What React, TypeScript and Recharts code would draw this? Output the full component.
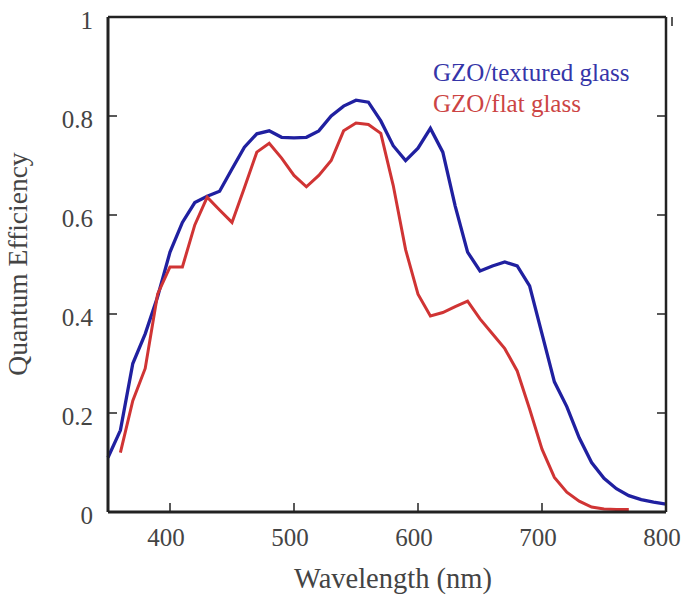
import React from 'react';
import { LineChart, Line, XAxis, YAxis, Legend } from 'recharts';

const wavelengths = [
  350, 360, 370, 380, 390, 400, 410, 420, 430, 440, 450, 460, 470, 480, 490, 500,
  510, 520, 530, 540, 550, 560, 570, 580, 590, 600, 610, 620, 630, 640, 650, 660,
  670, 680, 690, 700, 710, 720, 730, 740, 750, 760, 770, 780, 790, 800,
];

const texturedGlass = [
  0.11, 0.165, 0.3, 0.36, 0.435, 0.525, 0.585, 0.625, 0.638, 0.648, 0.693, 0.737, 0.764, 0.77, 0.757, 0.756,
  0.757, 0.77, 0.8, 0.82, 0.832, 0.828, 0.79, 0.74, 0.71, 0.735, 0.775, 0.727, 0.618, 0.525, 0.487, 0.497,
  0.505, 0.497, 0.457, 0.36, 0.263, 0.213, 0.15, 0.1, 0.068, 0.047, 0.033, 0.025, 0.02, 0.016,
];

const flatGlass = [
  null, 0.12, 0.225, 0.29, 0.44, 0.495, 0.495, 0.58, 0.636, 0.61, 0.585, 0.655, 0.727, 0.745, 0.715, 0.68,
  0.657, 0.68, 0.71, 0.77, 0.786, 0.783, 0.765, 0.66, 0.53, 0.44, 0.396, 0.403, 0.415, 0.426, 0.39, 0.36,
  0.33, 0.285, 0.208, 0.127, 0.07, 0.04, 0.022, 0.01, 0.006, 0.005, 0.005, null, null, null,
];

const xTicks = [400, 500, 600, 700, 800];
const xInnerTicks = [400, 500, 600, 700];
const yTicks = [0, 0.2, 0.4, 0.6, 0.8, 1];
const yInnerTicks = [0.2, 0.4, 0.6, 0.8];
const seriesOrder = ['textured', 'flat'];

const data = wavelengths.map((w, i) => ({
  wavelength: w,
  textured: texturedGlass[i],
  flat: flatGlass[i],
}));

const SERIF = '"Liberation Serif", "Times New Roman", serif';
const AXIS = '#222';
const BLUE = '#2020a0';
const RED = '#d03434';
const TICK_LEN = 9;
const X_MARGIN = 16;
const Y_MARGIN = 15;

// inward tick + label for the bottom axis
const BottomTick = (props: any) => {
  const { x, y, payload } = props;
  const axisY = y - X_MARGIN;
  return (
    <g>
      {payload.value !== 800 && (
        <line x1={x} x2={x} y1={axisY} y2={axisY - TICK_LEN} stroke={AXIS} strokeWidth={1.5} />
      )}
      <text x={x - 4} y={y} dy="0.71em" textAnchor="middle" fontFamily={SERIF} fontSize={25} fill="#444">
        {payload.value}
      </text>
    </g>
  );
};

// inward tick + label for the left axis
const LeftTick = (props: any) => {
  const { x, y, payload } = props;
  const axisX = x + Y_MARGIN;
  return (
    <g>
      {payload.value !== 0 && payload.value !== 1 && (
        <line x1={axisX} x2={axisX + TICK_LEN} y1={y} y2={y} stroke={AXIS} strokeWidth={1.5} />
      )}
      <text x={x} y={y + 3} dy="0.355em" textAnchor="end" fontFamily={SERIF} fontSize={25} fill="#444">
        {String(payload.value)}
      </text>
    </g>
  );
};

const TopTick = (props: any) => {
  const { x, y } = props;
  return <line x1={x} x2={x} y1={y} y2={y + TICK_LEN} stroke={AXIS} strokeWidth={1.5} />;
};

const RightTick = (props: any) => {
  const { x, y } = props;
  return <line x1={x - TICK_LEN} x2={x} y1={y} y2={y} stroke={AXIS} strokeWidth={1.5} />;
};

const renderLegend = (props: any) => {
  const items = [...(props.payload || [])].sort(
    (a: any, b: any) => seriesOrder.indexOf(a.dataKey) - seriesOrder.indexOf(b.dataKey)
  );
  return (
    <div style={{ fontFamily: SERIF, fontSize: 25, lineHeight: '31px' }}>
      {items.map((item: any) => (
        <div key={item.value} style={{ color: item.dataKey === 'flat' ? '#cc4444' : '#3535a8' }}>
          {item.value}
        </div>
      ))}
    </div>
  );
};

export default function App() {
  return (
    <div style={{ position: 'absolute', left: 0, top: 0, background: '#fff' }}>
      <LineChart width={684} height={596} data={data} margin={{ top: 16, right: 17, bottom: 0, left: 48 }}>
        <XAxis
          dataKey="wavelength"
          type="number"
          domain={[350, 800]}
          ticks={xTicks}
          height={84}
          stroke={AXIS}
          strokeWidth={3}
          tickSize={0}
          tickMargin={X_MARGIN}
          tickLine={false}
          tick={<BottomTick />}
          label={{
            content: () => (
              <text x={393} y={588} textAnchor="middle" fontFamily={SERIF} fontSize={28.5} fill="#444">
                Wavelength (nm)
              </text>
            ),
          }}
        />
        <XAxis
          xAxisId="top"
          orientation="top"
          type="number"
          domain={[350, 800]}
          allowDataOverflow
          ticks={xInnerTicks}
          height={1}
          stroke={AXIS}
          strokeWidth={2.5}
          tickSize={0}
          tickMargin={0}
          tickLine={false}
          tick={<TopTick />}
        />
        <YAxis
          type="number"
          domain={[0, 1]}
          ticks={yTicks}
          width={60}
          stroke={AXIS}
          strokeWidth={3}
          tickSize={0}
          tickMargin={Y_MARGIN}
          tickLine={false}
          tick={<LeftTick />}
          label={{
            content: () => (
              <text
                x={27}
                y={264}
                transform="rotate(-90 27 264)"
                textAnchor="middle"
                fontFamily={SERIF}
                fontSize={27.5}
                fill="#444"
              >
                Quantum Efficiency
              </text>
            ),
          }}
        />
        <YAxis
          yAxisId="right"
          orientation="right"
          type="number"
          domain={[0, 1]}
          allowDataOverflow
          ticks={yInnerTicks}
          width={1}
          stroke={AXIS}
          strokeWidth={2.5}
          tickSize={0}
          tickMargin={0}
          tickLine={false}
          tick={<RightTick />}
        />
        <Legend
          layout="vertical"
          verticalAlign="middle"
          align="center"
          wrapperStyle={{ left: 433, top: 57, width: 240 }}
          content={renderLegend}
        />
        <Line
          type="linear"
          dataKey="textured"
          name="GZO/textured glass"
          stroke={BLUE}
          strokeWidth={3.3}
          dot={false}
          isAnimationActive={false}
        />
        <Line
          type="linear"
          dataKey="flat"
          name="GZO/flat glass"
          stroke={RED}
          strokeWidth={3}
          dot={false}
          isAnimationActive={false}
        />
      </LineChart>
    </div>
  );
}
